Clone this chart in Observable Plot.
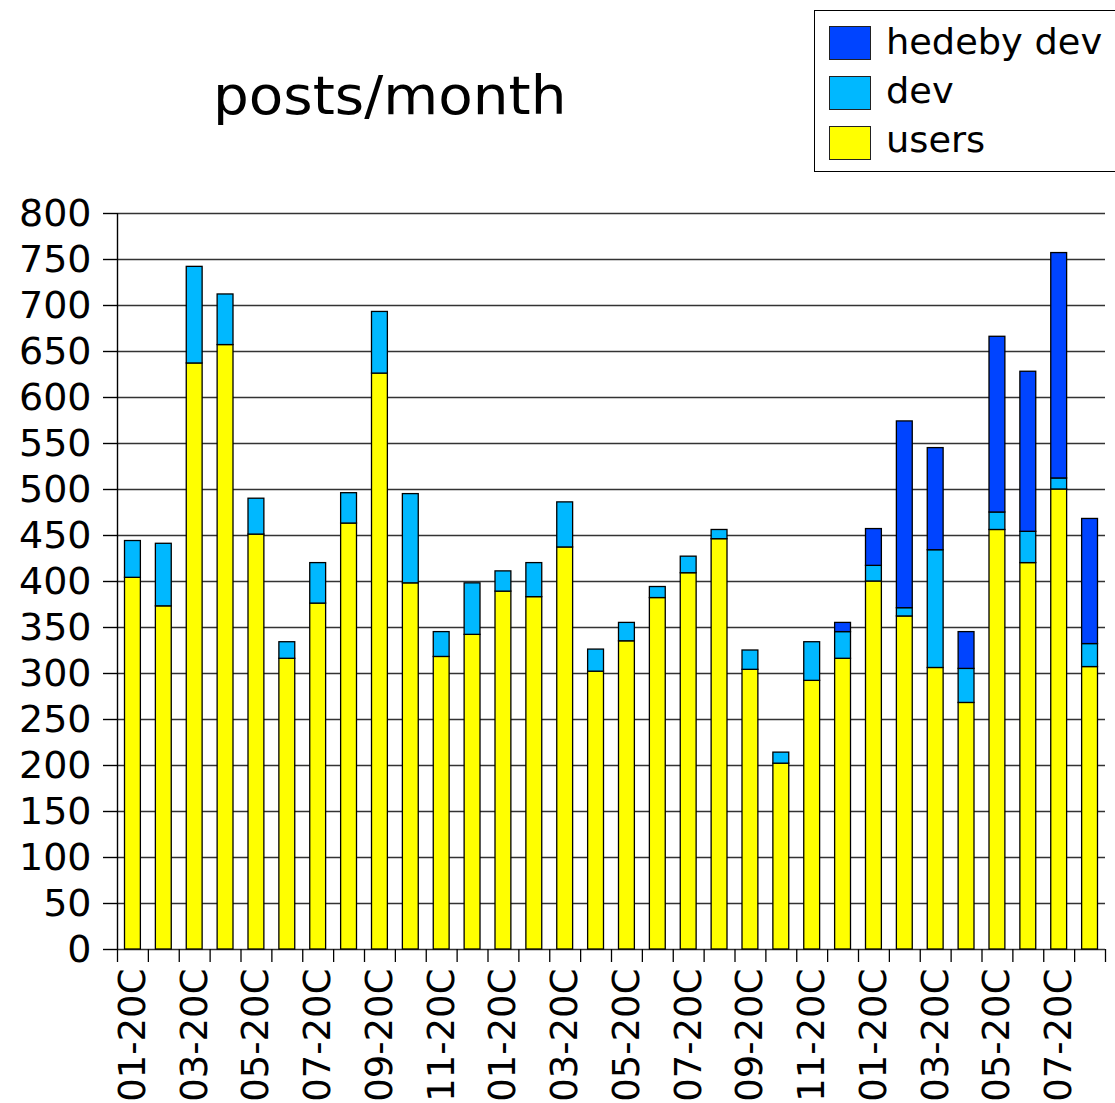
<!DOCTYPE html>
<html>
<head>
<meta charset="utf-8">
<script src="https://cdn.jsdelivr.net/npm/d3@7"></script>
<script src="https://cdn.jsdelivr.net/npm/@observablehq/plot@0.6"></script>
<style>
  html, body { margin: 0; padding: 0; background: white; }
  #wrap { position: relative; width: 1115px; height: 1103px; overflow: hidden; font-family: "DejaVu Sans", sans-serif; }
  #title { position: absolute; left: 213px; top: 69px; font-size: 54px; line-height: 1; color: black; white-space: nowrap; transform: scaleX(1.045); transform-origin: 0 0; }
  #legend { position: absolute; left: 814px; top: 10px; width: 310px; height: 160px; border: 1px solid black; background: white; }
  .sw { position: absolute; left: 14px; width: 42px; height: 34px; border: 1px solid #222; box-sizing: border-box; }
  .lt { position: absolute; left: 71px; font-size: 36px; line-height: 1; color: black; white-space: nowrap; transform: scaleX(1.02); transform-origin: 0 0; }
  #chart { position: absolute; left: 0; top: 0; }
</style>
</head>
<body>
<div id="wrap">
  <div id="chart"></div>
  <div id="title"></div>
  <div id="legend"></div>
</div>
<script>
const months = ["01-20C","02-20C","03-20C","04-20C","05-20C","06-20C","07-20C","08-20C","09-20C","10-20C","11-20C","12-20C",
                "01-20C","02-20C","03-20C","04-20C","05-20C","06-20C","07-20C","08-20C","09-20C","10-20C","11-20C","12-20C",
                "01-20C","02-20C","03-20C","04-20C","05-20C","06-20C","07-20C","08-20C"];
const users  = [404,373,637,657,451,316,376,463,626,398,318,342,389,383,437,302,335,382,409,446,304,202,292,316,400,362,306,268,456,420,500,307];
const dev    = [40,68,105,55,39,18,44,33,67,97,27,56,22,37,49,24,20,12,18,10,21,12,42,29,17,9,128,37,19,34,12,25];
const hedeby = [0,0,0,0,0,0,0,0,0,0,0,0,0,0,0,0,0,0,0,0,0,0,0,10,40,203,111,40,191,174,245,136];
const seriesNames = ["users","dev","hedeby dev"];
const seriesColors = ["#ffff00","#00b8ff","#0044ff"];
const yTicks = d3.range(0, 801, 50);
const titleText = "posts/month";

const values = [users, dev, hedeby];
const rows = [];
months.forEach((m, i) => {
  seriesNames.forEach((s, k) => {
    if (values[k][i] > 0) rows.push({i, month: m, series: s, value: values[k][i]});
  });
});
const labelPos = months.map((m, i) => i).filter(i => i % 2 === 0).map(i => i + 0.5);

const chart = Plot.plot({
  width: 1115,
  height: 1103,
  marginTop: 213,
  marginBottom: 154,
  marginLeft: 117,
  marginRight: 10,
  style: {fontFamily: "DejaVu Sans", background: "white", color: "black"},
  x: {type: "linear", domain: [0, months.length], axis: null},
  y: {domain: [0, 800], axis: null},
  color: {domain: seriesNames, range: seriesColors},
  marks: [
    Plot.gridY(yTicks, {stroke: "#333", strokeOpacity: 1, strokeWidth: 1.4}),
    Plot.axisY({ticks: yTicks, tickSize: 14, tickPadding: 12, fontSize: 38, label: null, stroke: "black", strokeWidth: 1.4}),
    Plot.rectY(rows, {x: "i", interval: 1, y: "value", fill: "series", stroke: "black", strokeWidth: 1.3, insetLeft: 7.5, insetRight: 7.5}),
    Plot.ruleX([0], {y1: 0, y2: 800, stroke: "black", strokeWidth: 1.4}),
    Plot.axisX({ticks: d3.range(0, months.length + 1), tickSize: 13, tickFormat: () => "", label: null, stroke: "black", strokeWidth: 1.3}),
    Plot.axisX({ticks: labelPos, tickSize: 0, tickPadding: 19, tickRotate: -90, fontSize: 37, label: null,
                tickFormat: d => months[Math.floor(d)]})
  ]
});
document.getElementById("chart").appendChild(chart);

document.getElementById("title").textContent = titleText;

const legend = document.getElementById("legend");
const order = [2, 1, 0];
order.forEach((k, j) => {
  const sw = document.createElement("div");
  sw.className = "sw";
  sw.style.top = (15 + j * 50) + "px";
  sw.style.background = seriesColors[k];
  legend.appendChild(sw);
  const t = document.createElement("div");
  t.className = "lt";
  t.style.top = (13 + j * 49) + "px";
  t.textContent = seriesNames[k];
  legend.appendChild(t);
});
</script>
</body>
</html>
